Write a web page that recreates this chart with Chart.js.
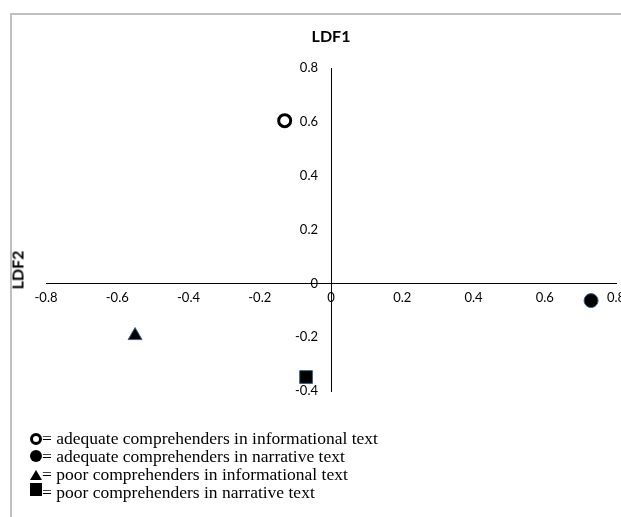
<!DOCTYPE html>
<html>
<head>
<meta charset="utf-8">
<script src="https://cdn.jsdelivr.net/npm/chart.js@4"></script>
<style>
  html, body { margin: 0; padding: 0; background: #fff; overflow: hidden; width: 621px; height: 517px; }
  #wrap { position: relative; width: 621px; height: 517px; overflow: hidden; }
  #frame { position: absolute; left: 10px; top: 13px; width: 700px; height: 600px;
           border-left: 2px solid #bfbfbf; border-top: 2px solid #bfbfbf; }
  #chartBox { position: absolute; left: 0; top: 0; width: 640px; height: 517px; }
  #ylab { position: absolute; left: 17px; top: 270px; transform: translate(-50%, -50%) rotate(-90deg);
          font: bold 16px Lato, sans-serif; color: #000; }
  #legend { position: absolute; left: 30px; top: 429px; font: 17.5px "Liberation Serif", serif;
            color: #000; }
  #legend div { height: 18px; line-height: 18px; white-space: nowrap; }
  .sym { display: inline-block; width: 12px; height: 18px; position: relative; vertical-align: top; }
  .ring { position: absolute; left: 0; top: 4px; width: 6px; height: 6px; border: 3px solid #000; border-radius: 50%; }
  .dot { position: absolute; left: 0; top: 3px; width: 12px; height: 12px; background: #000; border-radius: 50%; }
  .sq { position: absolute; left: 0; top: 0px; width: 12px; height: 13px; background: #000; }
  .tri { position: absolute; left: 0; top: 5px; width: 0; height: 0; border-left: 6px solid transparent;
         border-right: 6px solid transparent; border-bottom: 10px solid #000; }
</style>
</head>
<body>
<div id="wrap">
  <div id="frame"></div>
  <div id="chartBox"><canvas id="ldfChart" width="640" height="517"></canvas></div>
  <div id="ylab">LDF2</div>
  <div id="legend">
    <div><span class="sym"><span class="ring"></span></span>= adequate comprehenders in informational text</div>
    <div><span class="sym"><span class="dot"></span></span>= adequate comprehenders in narrative text</div>
    <div><span class="sym"><span class="tri"></span></span>= poor comprehenders in informational text</div>
    <div><span class="sym"><span class="sq"></span></span>= poor comprehenders in narrative text</div>
  </div>
</div>
<script>
// group names and LDF scores
var groups = ['adequate informational', 'adequate narrative', 'poor informational', 'poor narrative'];
var ldf1 = [-0.13, 0.73, -0.55, -0.07];
var ldf2 = [0.605, -0.064, -0.194, -0.348];
var xTicks = [-0.8, -0.6, -0.4, -0.2, 0, 0.2, 0.4, 0.6, 0.8];
var yTicks = [-0.4, -0.2, 0, 0.2, 0.4, 0.6, 0.8];

var styles = [
  { pointStyle: 'circle', pointRadius: 6, backgroundColor: '#fff', borderColor: '#000', borderWidth: 3 },
  { pointStyle: 'circle', pointRadius: 7, backgroundColor: '#000', borderColor: '#385d8a', borderWidth: 1 },
  { pointStyle: 'triangle', pointRadius: 8, backgroundColor: '#000', borderColor: '#385d8a', borderWidth: 1 },
  { pointStyle: 'rect', pointRadius: 9, backgroundColor: '#000', borderColor: '#385d8a', borderWidth: 1 }
];

var datasets = groups.map(function(g, i) {
  return Object.assign({
    label: g,
    data: [{ x: ldf1[i], y: ldf2[i] }]
  }, styles[i]);
});

function fmt(v) { return String(+v.toFixed(1)); }

Chart.defaults.color = '#000';
Chart.defaults.font.family = 'Lato, sans-serif';

var ctx = document.getElementById('ldfChart').getContext('2d');
var ldfChart = new Chart(ctx, {
  type: 'scatter',
  data: { datasets: datasets },
  options: {
    responsive: false,
    animation: false,
    layout: { padding: { left: 46, right: 24, top: 0, bottom: 126 } },
    plugins: {
      legend: { display: false },
      tooltip: { enabled: false },
      title: {
        display: true,
        text: 'LDF1',
        font: { size: 16, weight: 'bold' },
        padding: { top: 27, bottom: 22 }
      }
    },
    scales: {
      x: {
        type: 'linear',
        min: -0.8, max: 0.8,
        position: { y: 0 },
        afterBuildTicks: function(s) { s.ticks = xTicks.map(function(v) { return { value: v }; }); },
        grid: { display: false, drawTicks: false },
        border: { display: true, color: '#000', width: 1 },
        ticks: { padding: 7, font: { size: 13 }, maxRotation: 0, callback: fmt }
      },
      y: {
        type: 'linear',
        min: -0.4, max: 0.8,
        position: { x: 0 },
        afterBuildTicks: function(s) { s.ticks = yTicks.map(function(v) { return { value: v }; }); },
        grid: { display: false, drawTicks: false },
        border: { display: true, color: '#000', width: 1 },
        // centred axis ignores tick padding, so pad the label itself
        ticks: { font: { size: 13 }, callback: function(v) { return fmt(v) + '\u2002\u2002'; } }
      }
    }
  }
});
</script>
</body>
</html>
